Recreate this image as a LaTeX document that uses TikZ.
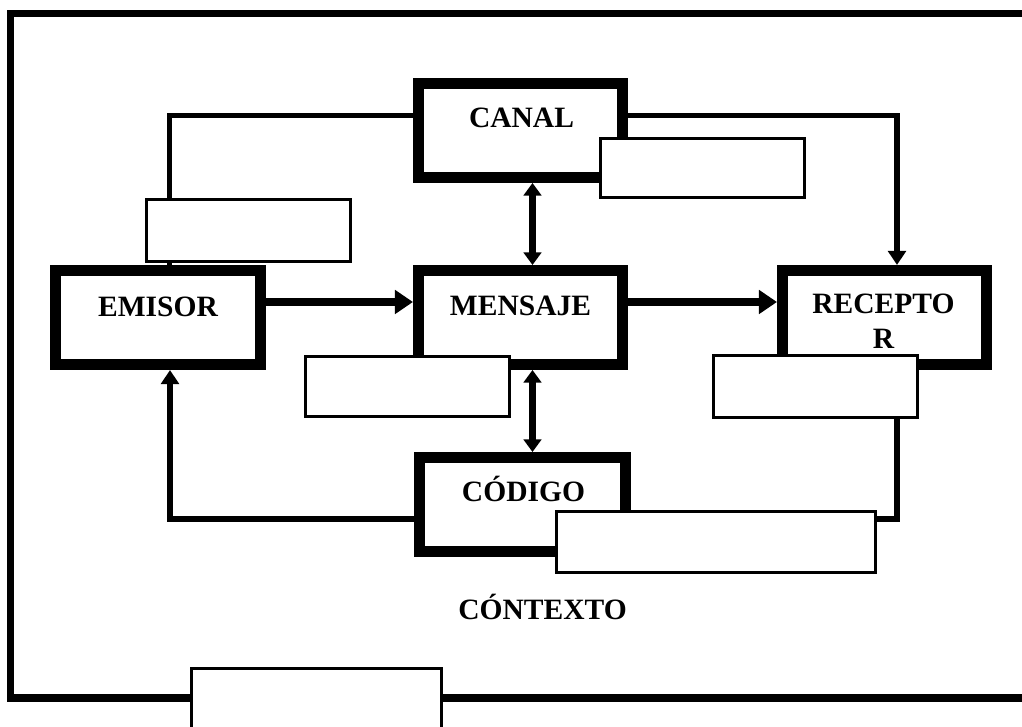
\documentclass[tikz,border=0pt]{standalone}
\usepackage{fontspec}
\setmainfont{Liberation Serif}
\usetikzlibrary{arrows.meta}

\begin{document}
\begin{tikzpicture}[x=0.025cm,y=-0.025cm,
    thickbox/.style={draw,line width=7.8pt,inner sep=0pt,minimum width=5.1cm,minimum height=2.35cm},
    thinbox/.style={draw,fill=white,line width=2.1pt,inner sep=0pt,minimum width=5.1cm},
    lbl/.style={font=\fontsize{21}{25}\selectfont\bfseries,align=center,inner sep=0pt},
    conn/.style={line width=3.6pt},
    tip/.style={-{Triangle[length=10pt,width=12.5pt]}},
    flow/.style={line width=5pt,-{Triangle[length=12.8pt,width=16.4pt]}},
    updown/.style={line width=4.3pt,{Triangle[length=9pt,width=12.5pt]}-{Triangle[length=9pt,width=12.5pt]}},
    frame/.style={line width=5.5pt}]
    \clip (0,0) rectangle (1022,727);

    % Frame
    \draw[frame] (1030,13.5) -- (10.5,13.5) -- (10.5,698) -- (1030,698);

    % Main boxes
    \node[thickbox] (canal) at (520.5,130.5) {};
    \node[thickbox] (emisor) at (158,317.5) {};
    \node[thickbox] (mensaje) at (520.5,317.5) {};
    \node[thickbox] (receptor) at (884.5,317.5) {};
    \node[thickbox,minimum width=5.15cm] (codigo) at (522.5,504.5) {};

    % Bends of the connectors
    \coordinate (cl) at (169.5,115.5);
    \coordinate (cr) at (897,115.5);
    \coordinate (hy) at (0,302);
    \coordinate (vx) at (532.5,0);
    \coordinate (bl) at (170,519);
    \coordinate (br) at (897,519);

    % Connectors
    \draw[conn] (canal.west |- cl) -- (cl) -- (emisor.north -| cl);
    \draw[conn,tip] (canal.east |- cr) -- (cr) -- (receptor.north -| cr);
    \draw[flow] (emisor.east |- hy) -- (mensaje.west |- hy);
    \draw[flow] (mensaje.east |- hy) -- (receptor.west |- hy);
    \draw[updown] (canal.south -| vx) -- (mensaje.north -| vx);
    \draw[updown] (mensaje.south -| vx) -- (codigo.north -| vx);
    \draw[conn,tip] (codigo.west |- bl) -- (bl) -- (emisor.south -| bl);
    \draw[conn] (receptor.south -| br) -- (br) -- (codigo.east |- br);

    % Empty boxes
    \node[thinbox,minimum height=1.475cm] (canalbox) at (702.5,168) {};
    \node[thinbox,minimum height=1.55cm] (emisorbox) at (248.5,230.5) {};
    \node[thinbox,minimum height=1.5cm] (mensajebox) at (407.5,386.5) {};
    \node[thinbox,minimum height=1.55cm] (receptorbox) at (815.5,386.5) {};
    \node[thinbox,minimum width=7.975cm,minimum height=1.525cm] (codigobox) at (716,542) {};
    \node[thinbox,minimum width=6.25cm,minimum height=2.8cm] (contextobox) at (316.5,724.5) {};

    % Labels
    \node[lbl,anchor=base] (tcanal) at (521.5,128) {CANAL};
    \node[lbl,anchor=base] (temisor) at (158,317) {EMISOR};
    \node[lbl,anchor=base] (tmensaje) at (520.5,316) {MENSAJE};
    \node[lbl] (treceptor) at (883.5,321.5) {RECEPTO\\R};
    \node[lbl,anchor=base] (tcodigo) at (523.5,502) {CÓDIGO};
    \node[lbl,anchor=base] (tcontexto) at (542.5,620) {CÓNTEXTO};
\end{tikzpicture}
\end{document}
